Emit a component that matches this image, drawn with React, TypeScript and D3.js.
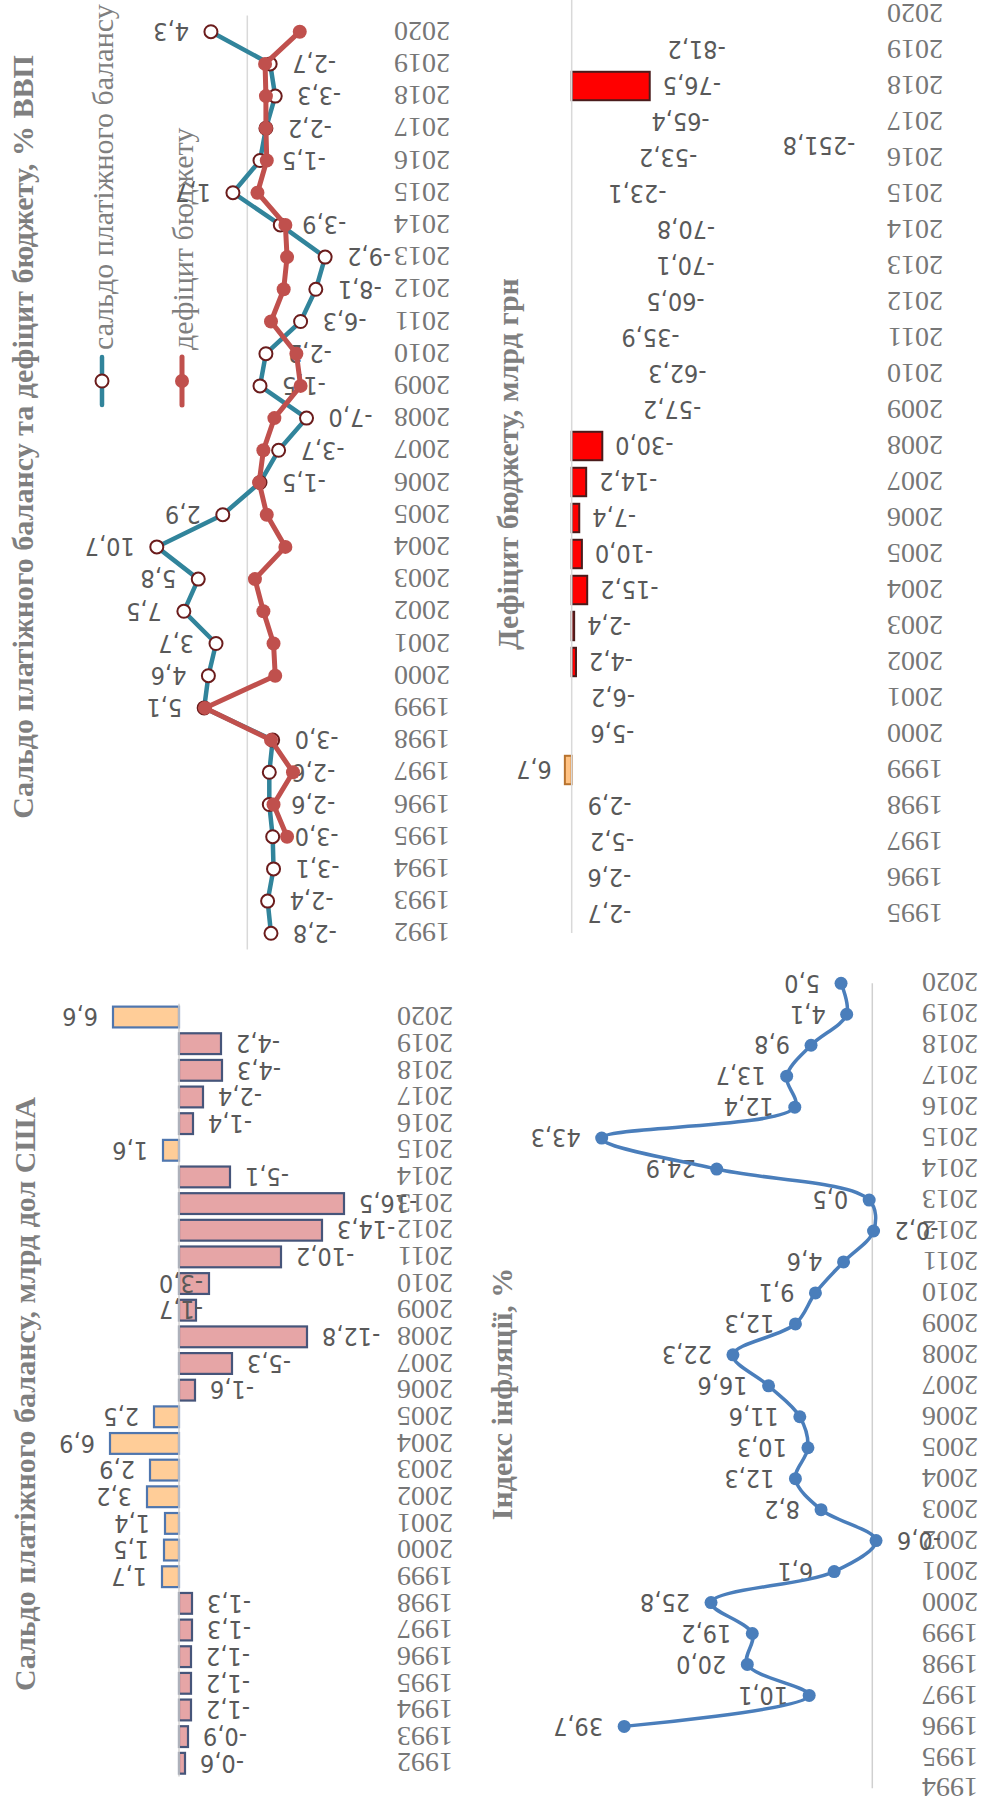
import React from 'react'
import * as d3 from 'd3'

// years on the category axes
const yearsBalance = [1992, 1993, 1994, 1995, 1996, 1997, 1998, 1999, 2000, 2001, 2002, 2003, 2004, 2005, 2006, 2007, 2008, 2009, 2010, 2011, 2012, 2013, 2014, 2015, 2016, 2017, 2018, 2019, 2020]
const yearsDeficit = [1995, 1996, 1997, 1998, 1999, 2000, 2001, 2002, 2003, 2004, 2005, 2006, 2007, 2008, 2009, 2010, 2011, 2012, 2013, 2014, 2015, 2016, 2017, 2018, 2019, 2020]
const yearsInflation = [1994, 1995, 1996, 1997, 1998, 1999, 2000, 2001, 2002, 2003, 2004, 2005, 2006, 2007, 2008, 2009, 2010, 2011, 2012, 2013, 2014, 2015, 2016, 2017, 2018, 2019, 2020]

// сальдо платіжного балансу, млрд дол США (1992-2020)
const balanceUsd = [-0.6, -0.9, -1.2, -1.2, -1.2, -1.3, -1.3, 1.7, 1.5, 1.4, 3.2, 2.9, 6.9, 2.5, -1.6, -5.3, -12.8, -1.7, -3.0, -10.2, -14.3, -16.5, -5.1, 1.6, -1.4, -2.4, -4.3, -4.2, 6.6]
// these two labels sit in the middle, near the axis
const centeredUsdLabels = [2009, 2010]

// сальдо платіжного балансу, % ВВП (1992-2020)
const balanceGdp = [-2.8, -2.4, -3.1, -3.0, -2.6, -2.6, -3.0, 5.1, 4.6, 3.7, 7.5, 5.8, 10.7, 2.9, -1.5, -3.7, -7.0, -1.5, -2.2, -6.3, -8.1, -9.2, -3.9, 1.7, -1.5, -2.2, -3.3, -2.7, 4.3]
// дефіцит бюджету, % ВВП (1995-2020)
const deficitGdp = [-4.7, -3.1, -5.4, -2.8, 5.0, -3.3, -3.1, -1.9, -0.9, -4.5, -2.3, -1.4, -1.9, -3.2, -6.3, -5.8, -2.8, -4.3, -4.7, -4.5, -1.2, -2.3, -2.2, -2.2, -2.1, -6.2]

// дефіцит бюджету, млрд грн (1995-2020)
const deficitUah: (number | null)[] = [-2.7, -2.6, -5.2, -2.9, 6.7, -5.6, -6.2, -4.2, -2.4, -15.2, -10.0, -7.4, -14.2, -30.0, -57.2, -62.3, -35.9, -60.5, -70.1, -70.8, -23.1, -53.2, -65.4, -76.5, -81.2, null]
// only these years show a bar in the picture
const deficitUahBars = [1999, 2002, 2003, 2004, 2005, 2006, 2007, 2008, 2018]
const strayLabel = '-251,8'

// індекс інфляції, % (1994-2020)
const inflation: (number | null)[] = [null, null, 39.7, 10.1, 20.0, 19.2, 25.8, 6.1, -0.6, 8.2, 12.3, 10.3, 11.6, 16.6, 22.3, 12.3, 9.1, 4.6, -0.2, 0.5, 24.9, 43.3, 12.4, 13.7, 9.8, 4.1, 5.0]

const SERIF = "'Liberation Serif','Times New Roman',serif"
const LABEL = "'DejaVu Sans Condensed','DejaVu Sans',sans-serif"
const fmt = (v: number) => v.toFixed(1).replace('.', ',')

// upside-down text (labels of the rotated page)
function Flip(props: { x: number; y: number; anchor: string; size: number; fill: string; family: string; children: any }) {
  return (
    <text transform={`translate(${props.x},${props.y}) rotate(180)`} textAnchor={props.anchor} dy="0.35em"
      fontSize={props.size} fill={props.fill} fontFamily={props.family}>{props.children}</text>
  )
}

function ValueLabel({ x, y, v, gap }: { x: number; y: number; v: number; gap: number }) {
  const neg = v < 0
  return <Flip x={neg ? x + gap : x - gap} y={y} anchor={neg ? 'end' : 'start'} size={25} fill="#595959" family={LABEL}>{fmt(v)}</Flip>
}

function Title({ x, y, text, anchor = 'middle', bold = true, size = 30 }: { x: number; y: number; text: string; anchor?: string; bold?: boolean; size?: number }) {
  return (
    <text transform={`translate(${x},${y}) rotate(-90)`} textAnchor={anchor} fontFamily={SERIF} fontSize={size}
      fontWeight={bold ? 'bold' : 'normal'} fill="#7f7f7f">{text}</text>
  )
}

function UsdChart() {
  const y = d3.scaleBand<number>().domain([...yearsBalance].reverse()).range([1003.7, 1776.6]).paddingInner(0.22).paddingOuter(0.11)
  const x = d3.scaleLinear().domain([-17, 8]).range([349, 99])
  const x0 = x(0)
  const bw = y.bandwidth()
  return (
    <g>
      <Title x={35} y={1394} text="Сальдо платіжного балансу, млрд дол США" />
      {yearsBalance.map((yr, i) => {
        const v = balanceUsd[i]
        const cy = (y(yr) as number) + bw / 2
        return (
          <g key={yr}>
            <rect x={Math.min(x0, x(v))} y={y(yr)} width={Math.abs(x(v) - x0)} height={bw}
              fill={v < 0 ? '#E6A5A6' : '#FFCD98'} stroke={v < 0 ? '#46557a' : '#4F76AE'} strokeWidth={2.2} />
            {centeredUsdLabels.includes(yr)
              ? <Flip x={x0 + 2} y={cy} anchor="middle" size={25} fill="#595959" family={LABEL}>{fmt(v)}</Flip>
              : <ValueLabel x={x(v)} y={cy} v={v} gap={15} />}
            <Flip x={453} y={cy} anchor="start" size={28} fill="#767676" family={SERIF}>{yr}</Flip>
          </g>
        )
      })}
      <line x1={x0} x2={x0} y1={1003.7} y2={1776.6} stroke="#d0d0d0" strokeWidth={1.5} />
    </g>
  )
}

function GdpChart() {
  const y = d3.scalePoint<number>().domain([...yearsBalance].reverse()).range([15.6, 949.4]).padding(0.5)
  const x = d3.scaleLinear().domain([-10, 12]).range([331.9, 145.8])
  const x0 = x(0)
  const balancePts = yearsBalance.map((yr, i) => [yr, balanceGdp[i]] as [number, number])
  const deficitPts = yearsDeficit.map((yr, i) => [yr, deficitGdp[i]] as [number, number])
  const line = d3.line<[number, number]>().x(d => x(d[1])).y(d => y(d[0]) as number)
  const teal = '#31849B'
  const red = '#C0504D'
  return (
    <g>
      <line x1={x0} x2={x0} y1={15.6} y2={949.4} stroke="#d9d9d9" strokeWidth={1.5} />
      <Title x={33} y={437} text="Сальдо платіжного балансу та дефіцит бюджету, % ВВП" />
      {/* legend */}
      <line x1={102} x2={102} y1={357} y2={405} stroke={teal} strokeWidth={4.5} strokeLinecap="round" />
      <circle cx={102} cy={381} r={6.5} fill="#fff" stroke="#6B1C1C" strokeWidth={2} />
      <Title x={113} y={350} anchor="start" bold={false} text="сальдо платіжного балансу" />
      <line x1={182} x2={182} y1={357} y2={405} stroke={red} strokeWidth={5} strokeLinecap="round" />
      <circle cx={182} cy={381} r={7} fill={red} />
      <Title x={193} y={350} anchor="start" bold={false} text="дефіцит бюджету" />

      {yearsBalance.map(yr => (
        <Flip key={yr} x={450} y={y(yr) as number} anchor="start" size={28} fill="#767676" family={SERIF}>{yr}</Flip>
      ))}
      {balancePts.map(d => <ValueLabel key={d[0]} x={x(d[1])} y={y(d[0]) as number} v={d[1]} gap={22} />)}

      <path d={line(balancePts) as string} fill="none" stroke={teal} strokeWidth={4.5} strokeLinejoin="round" />
      {balancePts.map(d => <circle key={d[0]} cx={x(d[1])} cy={y(d[0])} r={6.5} fill="#fff" stroke="#6B1C1C" strokeWidth={2} />)}
      <path d={line(deficitPts) as string} fill="none" stroke={red} strokeWidth={5} strokeLinejoin="round" />
      {deficitPts.map(d => <circle key={d[0]} cx={x(d[1])} cy={y(d[0])} r={7} fill={red} />)}
    </g>
  )
}

function UahChart() {
  const y = d3.scaleBand<number>().domain([...yearsDeficit].reverse()).range([-4, 932]).paddingInner(0.21).paddingOuter(0.105)
  const x = d3.scaleLinear().domain([-90, 10]).range([663.5, 561.5])
  const x0 = x(0)
  const bw = y.bandwidth()
  const step = y.step()
  return (
    <g>
      <Title x={518} y={464} text="Дефіцит бюджету, млрд грн" />
      {yearsDeficit.map((yr, i) => {
        const v = deficitUah[i]
        const cy = (y(yr) as number) + bw / 2
        return (
          <g key={yr}>
            {v !== null && deficitUahBars.includes(yr) && (
              <rect x={Math.min(x0, x(v))} y={y(yr)} width={Math.abs(x(v) - x0)} height={bw}
                fill={v < 0 ? '#FF0000' : '#FFC283'} stroke={v < 0 ? '#4a1c1c' : '#B8722E'} strokeWidth={2} />
            )}
            {v !== null && <ValueLabel x={x(v)} y={cy} v={v} gap={13} />}
            <Flip x={943} y={cy} anchor="start" size={28} fill="#767676" family={SERIF}>{yr}</Flip>
          </g>
        )
      })}
      <Flip x={x(-278)} y={(y(2017) as number) + bw / 2 + step * 0.65} anchor="start" size={25} fill="#595959" family={LABEL}>{strayLabel}</Flip>
      <line x1={x0} x2={x0} y1={0} y2={933} stroke="#d9d9d9" strokeWidth={1.5} />
    </g>
  )
}

function InflationChart() {
  const y = d3.scalePoint<number>().domain([...yearsInflation].reverse()).range([983.3, 1788.3])
  const x = d3.scaleLinear().domain([-5, 45]).range([903.55, 591.05])
  const x0 = x(0)
  const pts = yearsInflation.map((yr, i) => [yr, inflation[i]] as [number, number | null])
  const valid = pts.filter(d => d[1] !== null) as [number, number][]
  const line = d3.line<[number, number]>().x(d => x(d[1])).y(d => y(d[0]) as number).curve(d3.curveCatmullRom.alpha(0.5))
  const blue = '#4A7EBB'
  return (
    <g>
      <line x1={x0} x2={x0} y1={983.3} y2={1788.3} stroke="#d0d0d0" strokeWidth={1.5} />
      <Title x={512} y={1394} text="Індекс інфляції, %" />
      {yearsInflation.map(yr => (
        <Flip key={yr} x={978} y={y(yr) as number} anchor="start" size={28} fill="#767676" family={SERIF}>{yr}</Flip>
      ))}
      {valid.map(d => <ValueLabel key={d[0]} x={x(d[1])} y={y(d[0]) as number} v={d[1]} gap={21} />)}
      <path d={line(valid) as string} fill="none" stroke={blue} strokeWidth={3.5} />
      {valid.map(d => <circle key={d[0]} cx={x(d[1])} cy={y(d[0])} r={6.5} fill={blue} />)}
    </g>
  )
}

export default function App() {
  return (
    <svg width={981} height={1805} style={{ position: 'absolute', left: 0, top: 0, display: 'block', background: '#fff' }}>
      <UsdChart />
      <GdpChart />
      <UahChart />
      <InflationChart />
    </svg>
  )
}
